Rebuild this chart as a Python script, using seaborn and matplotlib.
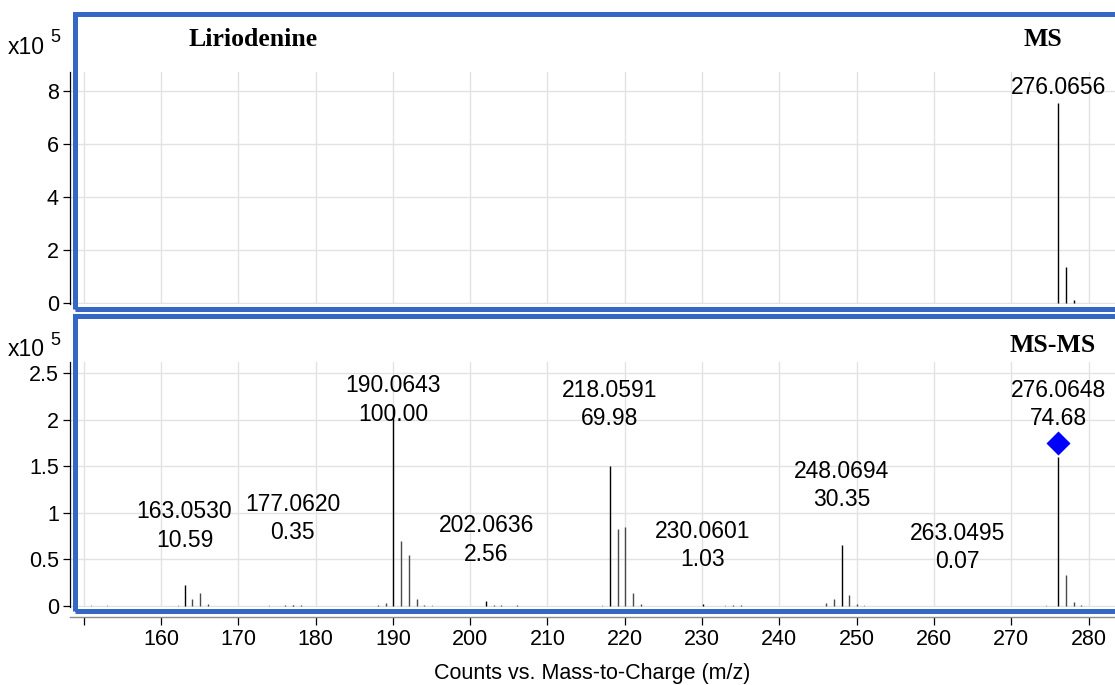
import matplotlib
matplotlib.use("Agg")
import matplotlib.pyplot as plt
from matplotlib.patches import Rectangle
import seaborn as sns
import pandas as pd

# ---- MS (full scan), intensities in units of 1e5 counts ----
ms_mz = [276.0656, 277.0690, 278.0720]
ms_counts = [7.55, 1.36, 0.10]
ms_label_mz = 276.0656

# ---- MS-MS product ions, intensities in units of 1e5 counts ----
base_peak = 2.14  # 190.0643 = 100 %
label_mz = [163.0530, 177.0620, 190.0643, 202.0636, 218.0591,
            230.0601, 248.0694, 263.0495, 276.0648]
label_rel = [10.59, 0.35, 100.00, 2.56, 69.98, 1.03, 30.35, 0.07, 74.68]

minor_mz = [164.06, 165.05, 166.05, 175.05, 176.05, 178.05, 188.06, 189.06,
            191.07, 192.07, 193.07, 194.07, 203.07, 204.05, 206.05, 219.06,
            220.06, 221.06, 222.06, 231.06, 234.05, 235.05, 246.06, 247.06,
            249.07, 250.07, 277.07, 278.07, 279.07]
minor_counts = [0.07, 0.14, 0.02, 0.005, 0.006, 0.006, 0.015, 0.03,
                0.70, 0.55, 0.07, 0.01, 0.015, 0.01, 0.015, 0.83,
                0.85, 0.14, 0.02, 0.005, 0.01, 0.01, 0.03, 0.07,
                0.12, 0.02, 0.33, 0.04, 0.01]

noise_mz = [151.0, 152.0, 153.0, 161.5, 162.2, 167.0, 168.0, 171.5, 173.0,
            174.0, 179.0, 187.0, 195.0, 196.0, 205.0, 207.5, 216.0, 217.0,
            223.0, 224.0, 229.0, 233.0, 236.0, 245.0, 251.0, 252.0, 274.5,
            275.2, 280.0]
noise_counts = [0.006, 0.005, 0.006, 0.004, 0.006, 0.005, 0.004, 0.004, 0.005,
                0.006, 0.005, 0.004, 0.006, 0.005, 0.005, 0.004, 0.005, 0.006,
                0.005, 0.004, 0.004, 0.006, 0.004, 0.005, 0.006, 0.004, 0.006,
                0.005, 0.005]

# annotation anchor positions (m/z, height in 1e5) for the two-line labels
label_pos_x = [163.05, 177.07, 190.06, 202.06, 218.06, 230.06, 248.07, 263.05, 276.06]
label_pos_y = [0.86, 0.94, 2.21, 0.71, 2.16, 0.65, 1.29, 0.63, 2.16]

x_ticks = list(range(150, 290, 10))

# ---- styling ----
sns.set_style("white")
plt.rcParams["font.family"] = ["Liberation Sans", "DejaVu Sans"]
plt.rcParams["text.color"] = "black"
plt.rcParams["axes.labelcolor"] = "black"
plt.rcParams["xtick.color"] = "black"
plt.rcParams["ytick.color"] = "black"

W, H = 1115, 685
fig = plt.figure(figsize=(W / 100, H / 100), dpi=100)

def fx(px):
    return px / W

def fy(py):
    return 1 - py / H

XLIM = (148.23, 283.42)
BLUE = "#3468C4"
GRID = "#E2E2E2"

ax_ms = fig.add_axes([fx(70), fy(304), fx(1115 - 70), (304 - 72) / H])
ax_mm = fig.add_axes([fx(70), fy(607), fx(1115 - 70), (607 - 362) / H])

for ax in (ax_ms, ax_mm):
    ax.set_xlim(*XLIM)
    ax.set_xticks(x_ticks)
    ax.set_facecolor("none")
    ax.grid(True, color=GRID, linewidth=1.0)
    ax.set_axisbelow(True)
    for s in ("top", "right"):
        ax.spines[s].set_visible(False)
    ax.spines["left"].set_color("black")
    ax.spines["left"].set_linewidth(0.9)
    ax.tick_params(axis="y", direction="out", length=5, width=0.9,
                   labelsize=15.5, pad=3, left=True, color="black",
                   labelcolor="black")

# top panel: MS
ax_ms.set_ylim(-0.04, 8.72)
ax_ms.set_yticks([0, 2, 4, 6, 8])
ax_ms.set_yticklabels(["0", "2", "4", "6", "8"])
ax_ms.spines["bottom"].set_visible(False)
ax_ms.tick_params(axis="x", bottom=False, labelbottom=False)
ms_df = pd.DataFrame({"mz": ms_mz, "counts": ms_counts})
ax_ms.vlines(ms_df["mz"], 0, ms_df["counts"], color="black", linewidth=1.0)
ax_ms.text(ms_label_mz, 8.15, f"{ms_label_mz:.4f}", ha="center", va="center",
           fontsize=16.5)

# bottom panel: MS-MS
ax_mm.set_ylim(-0.011, 2.618)
ax_mm.set_yticks([0, 0.5, 1, 1.5, 2, 2.5])
ax_mm.set_yticklabels(["0", "0.5", "1", "1.5", "2", "2.5"])
ax_mm.spines["bottom"].set_position(("outward", 7))
ax_mm.spines["bottom"].set_color("#8C8C8C")
ax_mm.spines["bottom"].set_linewidth(1.0)
ax_mm.tick_params(axis="x", direction="out", length=6, width=0.9,
                  labelsize=15.5, pad=3, bottom=True, color="black",
                  labelcolor="black")
ax_mm.set_xticklabels(["" if t == 150 else str(t) for t in x_ticks])
ax_mm.set_xlabel("Counts vs. Mass-to-Charge (m/z)", fontsize=15.5, labelpad=9)

label_counts = [base_peak * r / 100 for r in label_rel]
ax_mm.vlines(noise_mz, 0, noise_counts, color="#9A9A9A", linewidth=0.8)
ax_mm.vlines(minor_mz, 0, minor_counts, color="#4A4A4A", linewidth=1.0)
ax_mm.vlines(label_mz, 0, label_counts, color="black", linewidth=1.0)

for mz, rel, px, py in zip(label_mz, label_rel, label_pos_x, label_pos_y):
    ax_mm.text(px, py, f"{mz:.4f}\n{rel:.2f}", ha="center", va="center",
               fontsize=16.5, linespacing=1.3)

# precursor marker
prec = pd.DataFrame({"mz": [276.0648], "y": [1.75]})
sns.scatterplot(data=prec, x="mz", y="y", marker="D", color="#0000FF",
                s=150, edgecolor="#0000FF", linewidth=0, ax=ax_mm, zorder=5,
                legend=False)
ax_mm.set_ylabel("")
ax_mm.set_xlabel("Counts vs. Mass-to-Charge (m/z)", fontsize=15.5, labelpad=9)

# blue panel frames
for (x0, y0, x1, y1) in [(75, 13.5, 1125, 308.5), (75, 315.5, 1125, 610.5)]:
    fig.patches.append(Rectangle((fx(x0), fy(y1)), fx(x1 - x0), (y1 - y0) / H,
                                 transform=fig.transFigure, fill=False,
                                 edgecolor=BLUE, linewidth=3.6, zorder=10))

# panel headers and exponent labels
serif = ["Liberation Serif", "DejaVu Serif"]
fig.text(fx(253), fy(39), "Liriodenine", ha="center", va="center",
         fontsize=18.5, fontweight="bold", family=serif)
fig.text(fx(1043), fy(39), "MS", ha="center", va="center",
         fontsize=18.5, fontweight="bold", family=serif)
fig.text(fx(1053), fy(346), "MS-MS", ha="center", va="center",
         fontsize=18.5, fontweight="bold", family=serif)
for ytop in (47, 349):
    fig.text(fx(8), fy(ytop), "x10", ha="left", va="center", fontsize=16.5)
    fig.text(fx(50), fy(ytop - 9), "5", ha="left", va="center", fontsize=13)

fig.savefig("out.png", dpi=100)
